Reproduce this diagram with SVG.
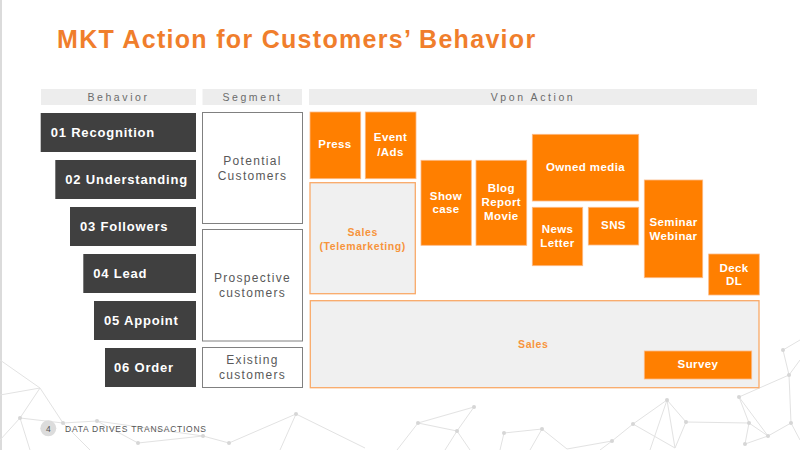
<svg xmlns="http://www.w3.org/2000/svg" width="800" height="450" viewBox="0 0 800 450">
<style>
.mesh line{stroke:#e2e2e2;stroke-width:1}
.mesh circle{fill:#d6d6d6}
.title{font-family:"Liberation Sans",Arial,sans-serif;font-weight:bold;font-size:25px;letter-spacing:1.3px;fill:#F07E2C}
.hdr{fill:#EDEDED}
.hdrt{font-family:"Liberation Sans",Arial,sans-serif;font-size:10.5px;letter-spacing:2.6px;fill:#6b6b6b;text-anchor:middle}
.beh{fill:#404040}
.beht{font-family:"Liberation Sans",Arial,sans-serif;font-weight:bold;font-size:13px;letter-spacing:0.8px;fill:#fff}
.seg{fill:#fff;stroke:#808080;stroke-width:1}
.segt{font-family:"Liberation Sans",Arial,sans-serif;font-size:12px;letter-spacing:1.3px;fill:#595959;text-anchor:middle}
.act{fill:#FF7F00;stroke:#FDBA85;stroke-width:0.8}
.actt{font-family:"Liberation Sans",Arial,sans-serif;font-weight:bold;font-size:11.5px;letter-spacing:0.4px;fill:#fff;text-anchor:middle}
.sal{fill:#F0F0F0;stroke:#F9A968;stroke-width:1.3}
.salt{font-family:"Liberation Sans",Arial,sans-serif;font-weight:bold;font-size:10.5px;letter-spacing:0.6px;fill:#F7943C;text-anchor:middle}
.foot{font-family:"Liberation Sans",Arial,sans-serif;font-size:8.5px;letter-spacing:0.75px;fill:#555}
</style>
<rect x="0" y="0" width="800" height="450" fill="#fff"/>
<line x1="1" y1="0" x2="1" y2="450" stroke="#cfcfcf" stroke-width="1.5"/>
<g class="mesh">
<line x1="0" y1="395" x2="40" y2="388"/><line x1="40" y1="388" x2="20" y2="418"/><line x1="40" y1="388" x2="63" y2="423"/><line x1="20" y1="418" x2="63" y2="423"/><line x1="0" y1="440" x2="20" y2="418"/><line x1="20" y1="418" x2="30" y2="450"/><line x1="63" y1="423" x2="97" y2="421"/><line x1="97" y1="421" x2="138" y2="443"/><line x1="63" y1="423" x2="90" y2="450"/><line x1="138" y1="443" x2="203" y2="436"/><line x1="203" y1="436" x2="229" y2="443"/><line x1="97" y1="421" x2="203" y2="436"/><line x1="229" y1="443" x2="296" y2="414"/><line x1="296" y1="414" x2="365" y2="448"/><line x1="296" y1="414" x2="280" y2="450"/><line x1="0" y1="360" x2="40" y2="388"/>
<line x1="474" y1="407" x2="418" y2="423"/><line x1="418" y1="423" x2="457" y2="431"/><line x1="474" y1="407" x2="457" y2="431"/><line x1="418" y1="423" x2="397" y2="450"/><line x1="457" y1="431" x2="445" y2="450"/><line x1="457" y1="431" x2="470" y2="450"/><line x1="504" y1="433" x2="542" y2="429"/><line x1="504" y1="433" x2="500" y2="450"/><line x1="542" y1="429" x2="567" y2="449"/><line x1="542" y1="429" x2="530" y2="450"/><line x1="567" y1="449" x2="612" y2="441"/><line x1="612" y1="441" x2="633" y2="424"/><line x1="633" y1="424" x2="667" y2="400"/><line x1="667" y1="400" x2="686" y2="422"/><line x1="667" y1="400" x2="675" y2="448"/><line x1="633" y1="424" x2="675" y2="448"/><line x1="686" y1="422" x2="749" y2="423"/><line x1="686" y1="422" x2="675" y2="448"/><line x1="739" y1="397" x2="749" y2="423"/><line x1="739" y1="397" x2="789" y2="375"/><line x1="749" y1="423" x2="768" y2="436"/><line x1="768" y1="436" x2="791" y2="423"/><line x1="749" y1="423" x2="745" y2="444"/><line x1="783" y1="350" x2="789" y2="375"/><line x1="789" y1="375" x2="791" y2="423"/><line x1="783" y1="350" x2="800" y2="340"/><line x1="789" y1="375" x2="800" y2="360"/><line x1="791" y1="423" x2="800" y2="440"/><line x1="739" y1="397" x2="768" y2="436"/><line x1="745" y1="444" x2="768" y2="436"/><line x1="667" y1="400" x2="650" y2="450"/><line x1="612" y1="441" x2="600" y2="450"/>
<circle cx="20" cy="418" r="2"/><circle cx="63" cy="423" r="2"/><circle cx="97" cy="421" r="2"/><circle cx="138" cy="443" r="2"/><circle cx="203" cy="436" r="2"/><circle cx="229" cy="443" r="2"/><circle cx="296" cy="414" r="2"/><circle cx="474" cy="407" r="2"/><circle cx="418" cy="423" r="2"/><circle cx="457" cy="431" r="2"/><circle cx="504" cy="433" r="2"/><circle cx="542" cy="429" r="2"/><circle cx="667" cy="400" r="2"/><circle cx="633" cy="424" r="2"/><circle cx="612" cy="441" r="2"/><circle cx="686" cy="422" r="2"/><circle cx="739" cy="397" r="2"/><circle cx="749" cy="423" r="2"/><circle cx="768" cy="436" r="2"/><circle cx="783" cy="350" r="2"/><circle cx="789" cy="375" r="2"/><circle cx="791" cy="423" r="2"/><circle cx="745" cy="444" r="2"/>
</g>
<text class="title" x="57" y="48">MKT Action for Customers’ Behavior</text>
<g id="headers">
<rect class="hdr" x="41" y="89" width="155" height="16"/><text class="hdrt" x="118.5" y="101">Behavior</text>
<rect class="hdr" x="202.5" y="89" width="99.5" height="16"/><text class="hdrt" x="252.5" y="101">Segment</text>
<rect class="hdr" x="309" y="89" width="448" height="16"/><text class="hdrt" x="533" y="101">Vpon Action</text>
</g>
<g id="b01"><rect class="beh" x="40.7" y="113" width="155.3" height="39"/><text class="beht" x="50.7" y="137">01 Recognition</text></g>
<g id="b02"><rect class="beh" x="55.3" y="160" width="140.7" height="39"/><text class="beht" x="65.3" y="184.2">02 Understanding</text></g>
<g id="b03"><rect class="beh" x="70" y="207" width="126" height="39"/><text class="beht" x="80" y="231.2">03 Followers</text></g>
<g id="b04"><rect class="beh" x="83.3" y="254" width="112.7" height="39"/><text class="beht" x="93.3" y="278.2">04 Lead</text></g>
<g id="b05"><rect class="beh" x="94" y="301" width="102" height="39"/><text class="beht" x="104" y="325.2">05 Appoint</text></g>
<g id="b06"><rect class="beh" x="105" y="348" width="91" height="39"/><text class="beht" x="114" y="372.2">06 Order</text></g>
<g id="s-potential"><rect class="seg" x="202.5" y="112.5" width="100" height="111"/><text class="segt" x="252.5" y="165">Potential</text><text class="segt" x="252.5" y="179.5">Customers</text></g>
<g id="s-prospective"><rect class="seg" x="202.5" y="229.5" width="100" height="111.5"/><text class="segt" x="252.5" y="282">Prospective</text><text class="segt" x="252.5" y="296.5">customers</text></g>
<g id="s-existing"><rect class="seg" x="202.5" y="347.5" width="100" height="40"/><text class="segt" x="252.5" y="364">Existing</text><text class="segt" x="252.5" y="378.5">customers</text></g>
<g id="a-press"><rect class="act" x="310" y="112" width="50.7" height="66.7"/><text class="actt" x="335" y="148.3">Press</text></g>
<g id="a-event"><rect class="act" x="365.3" y="112" width="50.7" height="66.7"/><text class="actt" x="390.5" y="141.3">Event</text><text class="actt" x="390.5" y="155.7">/Ads</text></g>
<g id="a-tele"><rect class="sal" x="310" y="182.7" width="105.3" height="111"/><text class="salt" x="362.7" y="236">Sales</text><text class="salt" x="362.7" y="249.7">(Telemarketing)</text></g>
<g id="a-show"><rect class="act" x="421" y="160.3" width="50.3" height="85"/><text class="actt" x="446" y="199.7">Show</text><text class="actt" x="446" y="213.3">case</text></g>
<g id="a-blog"><rect class="act" x="476" y="160.3" width="50.7" height="85"/><text class="actt" x="501.3" y="192.3">Blog</text><text class="actt" x="501.3" y="206.3">Report</text><text class="actt" x="501.3" y="220">Movie</text></g>
<g id="a-owned"><rect class="act" x="532.3" y="134.3" width="106.4" height="66.7"/><text class="actt" x="585.5" y="171.3">Owned media</text></g>
<g id="a-news"><rect class="act" x="532.3" y="207.3" width="50.4" height="58.4"/><text class="actt" x="557.5" y="233">News</text><text class="actt" x="557.5" y="246.7">Letter</text></g>
<g id="a-sns"><rect class="act" x="588.3" y="207.3" width="50.4" height="37.7"/><text class="actt" x="613.5" y="229.3">SNS</text></g>
<g id="a-seminar"><rect class="act" x="644.3" y="180" width="58.4" height="97.7"/><text class="actt" x="673.5" y="226.3">Seminar</text><text class="actt" x="673.5" y="239.7">Webinar</text></g>
<g id="a-deck"><rect class="act" x="708.7" y="254" width="50.6" height="41"/><text class="actt" x="734" y="271.7">Deck</text><text class="actt" x="734" y="285.3">DL</text></g>
<g id="a-sales"><rect class="sal" x="310.3" y="300.7" width="448.7" height="87"/><text class="salt" x="533.3" y="348">Sales</text></g>
<g id="a-survey"><rect class="act" x="644.3" y="351" width="107.4" height="28"/><text class="actt" x="698" y="368.3">Survey</text></g>
<g id="connectors"></g>
<g id="footer">
<circle cx="48.3" cy="428.3" r="8" fill="#dcdcdc"/>
<text x="48.3" y="431.5" font-family="Liberation Sans, Arial, sans-serif" font-size="8.5" fill="#555" text-anchor="middle">4</text>
<text class="foot" x="65" y="431.5">DATA DRIVES TRANSACTIONS</text>
</g>
</svg>
